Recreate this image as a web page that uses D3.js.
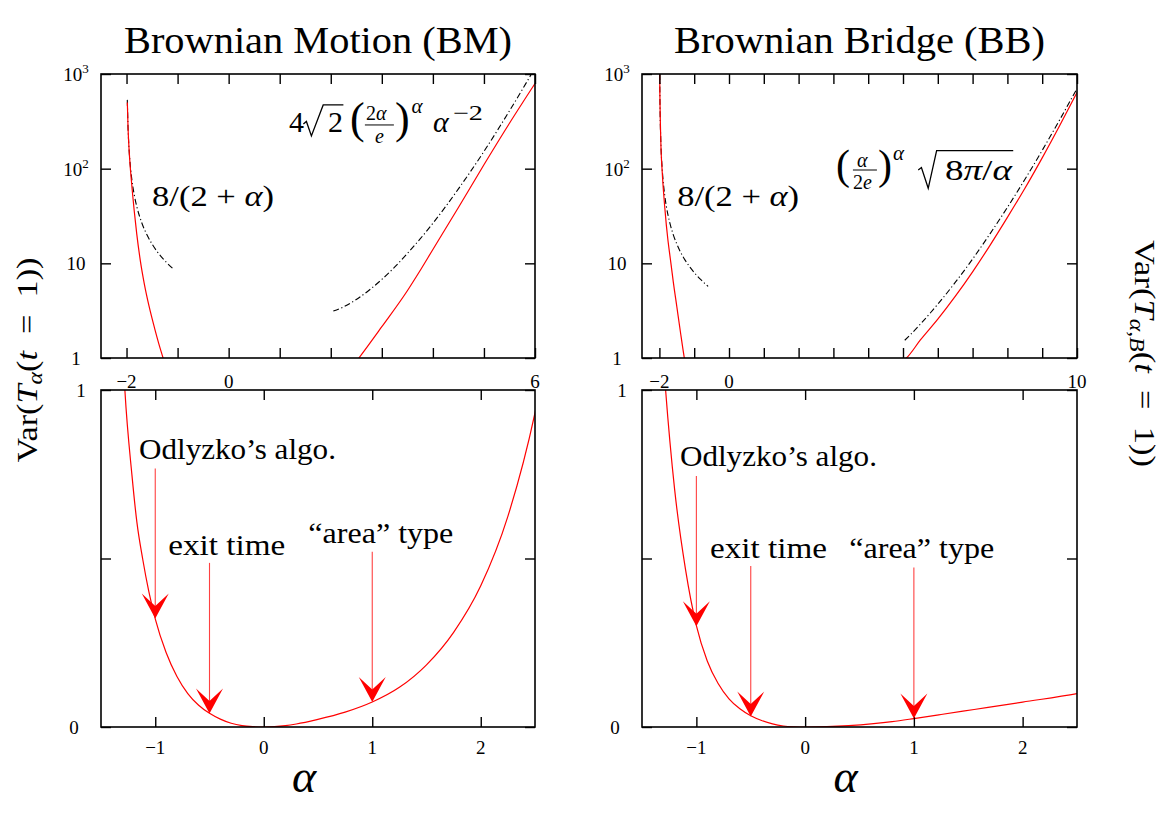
<!DOCTYPE html>
<html><head><meta charset="utf-8">
<script src="https://cdn.jsdelivr.net/npm/d3@7"></script>
<style>
body{margin:0;background:#fff}
svg{display:block}
text{fill:#000}
</style>
</head><body>
<svg id="c" width="1170" height="827" font-family="'Liberation Serif','DejaVu Serif','Times New Roman',serif"></svg>
<script>
// ---------------- DATA ----------------
const titles = ["Brownian Motion (BM)", "Brownian Bridge (BB)"];

// top (log) panels: x ticks / labels
const topXTicksBM = [-2,-1,0,1,2,3,4,5,6];
const topXLabelsBM = [-2,0,6];
const topXTicksBB = [-2,-1,0,1,2,3,4,5,6,7,8,9,10];
const topXLabelsBB = [-2,0,10];
const logYTicks = [1,10,100,1000];
const logYLabelBase = ["1","10","10","10"];
const logYLabelExp  = ["","","2","3"];
// bottom (linear) panels
const bottomXTicks = [-1,0,1,2];
const linYTicks = [0,0.5,1];
const linYLabels = [0,1];

// BM, log panel: variance (red)
const bmTopRedLeftA  = [-1.984,-1.97,-1.95,-1.93,-1.906,-1.88,-1.85,-1.8,-1.73,-1.65,-1.56,-1.45,-1.37,-1.284,-1.25];
const bmTopRedLeftV  = [500,267,160,109,75.9,53,36.1,20.5,10.7,6.01,3.55,2.06,1.43,1.0,0.867];
const bmTopRedRightA = [2.45,2.551,3,3.5,3.717,4,4.5,5,5.5,6];
const bmTopRedRightV = [0.85,1.0,2.14,5.13,7.85,14.0,38.9,110,302,794];
// BM, log panel: asymptotes (black dash-dot)
const bmTopBlackLeftA  = [-1.985,-1.97,-1.95,-1.92,-1.9,-1.85,-1.8,-1.7,-1.6,-1.5,-1.4,-1.3,-1.2,-1.1,-1.07];
const bmTopBlackLeftV  = [533,267,160,100,80,53.3,40,26.7,20,16,13.3,11.4,10,8.89,8.6];
const bmTopBlackRightA = [2.05,2.25,2.5,2.75,3,3.25,3.5,3.75,4,4.5,5,5.5,5.75,6];
const bmTopBlackRightV = [3.13,3.47,4.15,5.20,6.76,9.11,12.7,18.1,26.5,61.1,152,408,683,1164];

// BB, log panel
const bbTopRedLeftA  = [-1.995,-1.992,-1.96,-1.92,-1.885,-1.85,-1.8,-1.76,-1.7,-1.664,-1.6,-1.5,-1.4,-1.284,-1.25];
const bbTopRedLeftV  = [1600,1000,200,93.3,59.2,40.5,25.2,18.3,12.2,9.7,6.32,3.5,1.93,1.0,0.847];
const bbTopRedRightA = [5.0,5.1,5.5,6,6.5,7,7.5,8,8.5,9,9.5,10];
const bbTopRedRightV = [0.93,1.0,1.55,2.57,4.47,8.13,15.5,30.6,61.7,130,284,640];
const bbTopBlackLeftA  = [-1.992,-1.98,-1.96,-1.92,-1.9,-1.85,-1.8,-1.7,-1.6,-1.5,-1.4,-1.3,-1.2,-1.1,-1.0,-0.9,-0.8,-0.7,-0.6];
const bbTopBlackLeftV  = [1000,400,200,100,80,53.3,40,26.7,20,16,13.3,11.4,10,8.89,8,7.27,6.67,6.15,5.71];
const bbTopBlackRightA = [5.05,5.25,5.5,6,6.5,7,7.5,8,8.5,9,9.5,10];
const bbTopBlackRightV = [1.54,1.82,2.28,3.70,6.28,11.1,20.5,39.0,76.8,156,327,702];

// bottom (linear) panels
const bmBottomA = [-1.30,-1.28,-1.215,-1.169,-1.115,-1.06,-1.0,-0.9,-0.8,-0.7,-0.6,-0.5,-0.4,-0.3,-0.2,-0.1,0,0.1,0.2,0.3,0.49,0.75,1.0,1.25,1.5,1.75,2.0,2.25,2.5,2.55];
const bmBottomV = [1.12,1.0,0.748,0.607,0.497,0.403,0.321,0.221,0.150,0.0993,0.0646,0.0408,0.0235,0.0111,0.004,0.001,0,0.001,0.004,0.009,0.022,0.044,0.074,0.1176,0.1845,0.281,0.419,0.625,0.932,1.01];
const bbBottomA = [-1.31,-1.283,-1.2,-1.1,-1.0,-0.9,-0.8,-0.7,-0.6,-0.5,-0.4,-0.3,-0.2,-0.1,0,0.2,0.4,0.63,0.8,1.0,1.25,1.554,2.0,2.5,2.55];
const bbBottomV = [1.12,1.0,0.705,0.468,0.301,0.196,0.129,0.0837,0.054,0.0334,0.0193,0.0091,0.003,0.0007,0,0.001,0.004,0.01,0.016,0.025,0.037,0.052,0.074,0.099,0.102];

// arrows (alpha, tail value, tip value)
const arrowAlpha = [-1,-0.5,1];
const bmArrowTail = [0.767,0.487,0.52];
const bmArrowTip  = [0.322,0.04,0.074];
const bbArrowTail = [0.745,0.478,0.473];
const bbArrowTip  = [0.299,0.031,0.025];
// annotation labels (text, alpha anchor, value anchor)
const annoText  = ["Odlyzko\u2019s algo.","exit time","\u201Carea\u201D type"];
const bmAnnoA = [-1.150,-0.880,0.411], bmAnnoV = [0.796,0.510,0.545];
const bbAnnoA = [-1.151,-0.875,0.406], bbAnnoV = [0.774,0.501,0.501];
const annoWidth = [197,117,145];

// ---------------- LAYOUT ----------------
const svg = d3.select('#c');
const defs = svg.append('defs');
const colX = {bm:[101,535], bb:[642,1077]};
const topY = [358,74], botY = [727,390];

const xTopBM = d3.scaleLinear([-2.5,6], colX.bm);
const xTopBB = d3.scaleLinear([-2.5,10], colX.bb);
const xBotBM = d3.scaleLinear([-1.5,2.5], colX.bm);
const xBotBB = d3.scaleLinear([-1.5,2.5], colX.bb);
const yLog = d3.scaleLog([1,1000], topY);
const yLin = d3.scaleLinear([0,1], botY);

function clip(id, xr, yr){
  defs.append('clipPath').attr('id',id).append('rect')
    .attr('x',xr[0]).attr('y',yr[1]).attr('width',xr[1]-xr[0]).attr('height',yr[0]-yr[1]);
}
function curve(g, x, y, A, V, stroke, dash, clipId){
  const line = d3.line().x(d=>x(d[0])).y(d=>y(d[1])).curve(d3.curveMonotoneX);
  g.append('path').datum(d3.zip(A,V)).attr('d',line)
    .attr('fill','none').attr('stroke',stroke).attr('stroke-width',stroke==='#000'?1.1:1.2)
    .attr('stroke-dasharray',dash||null).attr('clip-path',`url(#${clipId})`);
}
function styleAxis(sel){
  sel.select('.domain').remove();
  sel.selectAll('.tick line').attr('stroke','#000').attr('stroke-width',1.4);
}
function frameAxes(g, x, y, xr, yr, xticks, yticks){
  g.append('g').attr('transform',`translate(0,${yr[0]})`)
    .call(d3.axisBottom(x).tickValues(xticks).tickSize(-10).tickSizeOuter(0).tickFormat('')).call(styleAxis);
  g.append('g').attr('transform',`translate(0,${yr[1]})`)
    .call(d3.axisTop(x).tickValues(xticks).tickSize(-10).tickSizeOuter(0).tickFormat('')).call(styleAxis);
  g.append('g').attr('transform',`translate(${xr[0]},0)`)
    .call(d3.axisLeft(y).tickValues(yticks).tickSize(-10).tickSizeOuter(0).tickFormat('')).call(styleAxis);
  g.append('g').attr('transform',`translate(${xr[1]},0)`)
    .call(d3.axisRight(y).tickValues(yticks).tickSize(-10).tickSizeOuter(0).tickFormat('')).call(styleAxis);
  g.append('rect').attr('x',xr[0]).attr('y',yr[1]).attr('width',xr[1]-xr[0]).attr('height',yr[0]-yr[1])
    .attr('fill','none').attr('stroke','#000').attr('stroke-width',1.6);
}
const fmt = v => (v<0? '\u2212'+Math.abs(v) : String(v));
const FONT = "'Liberation Serif','DejaVu Serif','Times New Roman',serif";

function topPanel(key, x, xticks, xlabels, data){
  const g = svg.append('g').attr('font-family',FONT); const xr = colX[key]; const cid = 'clipTop'+key;
  clip(cid, xr, topY);
  curve(g,x,yLog,data.bl[0],data.bl[1],'#000','6,2.6,1.2,2.6',cid);
  curve(g,x,yLog,data.br[0],data.br[1],'#000','6,2.6,1.2,2.6',cid);
  curve(g,x,yLog,data.rl[0],data.rl[1],'#ff0000',null,cid);
  curve(g,x,yLog,data.rr[0],data.rr[1],'#ff0000',null,cid);
  frameAxes(g,x,yLog,xr,topY,xticks,logYTicks);
  g.selectAll('.xl').data(xlabels).join('text').attr('x',d=>x(d)).attr('y',topY[0]+30)
    .attr('text-anchor','middle').attr('font-size',19).text(fmt);
  logYTicks.forEach((v,i)=>{
    const t = g.append('text').attr('x',xr[0]-25).attr('y',yLog(v)+7).attr('text-anchor','middle').attr('font-size',19);
    t.append('tspan').text(logYLabelBase[i]);
    if (logYLabelExp[i]) t.append('tspan').attr('font-size',13).attr('dy',-8).text(logYLabelExp[i]);
  });
  return g;
}
function bottomPanel(key, x, data, tails, tips, annoA, annoV){
  const g = svg.append('g').attr('font-family',FONT); const xr = colX[key]; const cid = 'clipBot'+key;
  clip(cid, xr, botY);
  curve(g,x,yLin,data[0],data[1],'#ff0000',null,cid);
  frameAxes(g,x,yLin,xr,botY,bottomXTicks,linYTicks);
  g.selectAll('.xl').data(bottomXTicks).join('text').attr('x',d=>x(d)).attr('y',botY[0]+27)
    .attr('text-anchor','middle').attr('font-size',19).text(fmt);
  linYLabels.forEach(v=>{
    g.append('text').attr('x',xr[0]+(v===0?-27:-20)).attr('y',yLin(v)+7)
      .attr('text-anchor','middle').attr('font-size',19).text(v);
  });
  arrowAlpha.forEach((a,i)=>{
    const px = x(a), yt = yLin(tails[i]), yh = yLin(tips[i]);
    g.append('line').attr('x1',px).attr('x2',px).attr('y1',yt).attr('y2',yh-12)
      .attr('stroke','#ff2020').attr('stroke-width',1.1).attr('stroke-opacity',0.85);
    g.append('path').attr('d',`M${px},${yh} L${px-13.5},${yh-25} L${px},${yh-12.5} L${px+13.5},${yh-25} Z`)
      .attr('fill','#ff0000');
  });
  annoText.forEach((t,i)=>{
    g.append('text').attr('x',x(annoA[i])).attr('y',yLin(annoV[i])).attr('font-size',29)
      .attr('textLength',annoWidth[i]).attr('lengthAdjust','spacingAndGlyphs').text(t);
  });
  return g;
}

const gTL = topPanel('bm', xTopBM, topXTicksBM, topXLabelsBM, {
  rl:[bmTopRedLeftA,bmTopRedLeftV], rr:[bmTopRedRightA,bmTopRedRightV],
  bl:[bmTopBlackLeftA,bmTopBlackLeftV], br:[bmTopBlackRightA,bmTopBlackRightV]});
const gTR = topPanel('bb', xTopBB, topXTicksBB, topXLabelsBB, {
  rl:[bbTopRedLeftA,bbTopRedLeftV], rr:[bbTopRedRightA,bbTopRedRightV],
  bl:[bbTopBlackLeftA,bbTopBlackLeftV], br:[bbTopBlackRightA,bbTopBlackRightV]});
bottomPanel('bm', xBotBM, [bmBottomA,bmBottomV], bmArrowTail, bmArrowTip, bmAnnoA, bmAnnoV);
bottomPanel('bb', xBotBB, [bbBottomA,bbBottomV], bbArrowTail, bbArrowTip, bbAnnoA, bbAnnoV);

// ---------- math annotations ----------
function T(g, x, y, txt, size, italic, len){
  const t = g.append('text').attr('x',x).attr('y',y).attr('font-size',size).text(txt);
  if (italic) t.attr('font-style','italic');
  if (len) t.attr('textLength',len).attr('lengthAdjust','spacingAndGlyphs');
  return t;
}
function frac8(g, x, y){
  const t = g.append('text').attr('x',x).attr('y',y).attr('font-size',30)
    .attr('textLength',122).attr('lengthAdjust','spacingAndGlyphs');
  t.append('tspan').text('8/(2 + ');
  t.append('tspan').attr('font-style','italic').text('\u03B1');
  t.append('tspan').text(')');
}
frac8(gTL, xTopBM(-1.5), yLog(40.6));
frac8(gTR, xTopBB(-1.49), yLog(40.6));

// BM asymptote formula: 4 sqrt2 (2a/e)^a a^-2
(function(){
  const g = gTL, ax = xTopBM(1.18), ay = yLog(246);
  T(g, ax, ay, '4', 30);
  g.append('path').attr('d',`M${ax+14.5},${ay-7.7} L${ax+17.5},${ay-10.2} L${ax+22.5},${ay+4.3} L${ax+34.3},${ay-26.7} L${ax+54.5},${ay-26.7}`)
    .attr('fill','none').attr('stroke','#000').attr('stroke-width',1.3);
  T(g, ax+39, ay, '2', 30);
  T(g, ax+61, ay+1.8, '(', 44);
  const n = g.append('text').attr('x',ax+77).attr('y',ay-12).attr('font-size',20);
  n.append('tspan').text('2'); n.append('tspan').attr('font-style','italic').text('\u03B1');
  g.append('line').attr('x1',ax+76).attr('x2',ax+105).attr('y1',ay-6.7).attr('y2',ay-6.7).attr('stroke','#000').attr('stroke-width',1);
  T(g, ax+86, ay+11, 'e', 20, true);
  T(g, ax+106, ay+1.8, ')', 44);
  T(g, ax+122.7, ay-18.5, '\u03B1', 21, true);
  T(g, ax+144, ay, '\u03B1', 30, true);
  T(g, ax+164, ay-12, '\u22122', 21, false, 30);
})();
// BB asymptote formula: (a/2e)^a sqrt(8 pi / a)
(function(){
  const g = gTR, ax = xTopBB(3.13), ay = yLog(75.9);
  T(g, ax-2, ay-1, '(', 42);
  T(g, ax+19, ay-13.5, '\u03B1', 20, true);
  g.append('line').attr('x1',ax+15).attr('x2',ax+39).attr('y1',ay-10).attr('y2',ay-10).attr('stroke','#000').attr('stroke-width',1);
  const d = g.append('text').attr('x',ax+15).attr('y',ay+8.5).attr('font-size',20);
  d.append('tspan').text('2'); d.append('tspan').attr('font-style','italic').text('e');
  T(g, ax+40, ay-1, ')', 42);
  T(g, ax+55, ay-20, '\u03B1', 21, true);
  g.append('path').attr('d',`M${ax+80.3},${ay-10} L${ax+83.5},${ay-12.5} L${ax+90.3},${ay+8.3} L${ax+98.7},${ay-29.3} L${ax+175.3},${ay-29.3}`)
    .attr('fill','none').attr('stroke','#000').attr('stroke-width',1.3);
  const r = g.append('text').attr('x',ax+107).attr('y',ay).attr('font-size',30)
    .attr('textLength',67).attr('lengthAdjust','spacingAndGlyphs');
  r.append('tspan').text('8');
  r.append('tspan').attr('font-style','italic').text('\u03C0');
  r.append('tspan').text('/');
  r.append('tspan').attr('font-style','italic').text('\u03B1');
})();

// ---------- titles & axis titles ----------
const tw = [388,371];
['bm','bb'].forEach((k,i)=>{
  svg.append('text').attr('font-family',FONT).attr('x',(colX[k][0]+colX[k][1])/2).attr('y',53).attr('text-anchor','middle')
    .attr('font-size',38).attr('textLength',tw[i]).attr('lengthAdjust','spacingAndGlyphs').text(titles[i]);
  svg.append('text').attr('font-family',FONT).attr('x',(colX[k][0]+colX[k][1])/2-14).attr('y',792).attr('text-anchor','middle')
    .attr('font-size',46).attr('font-style','italic').text('\u03B1');
});
// left y label
(function(){
  const t = svg.append('text').attr('font-family',FONT).attr('transform','translate(37,360) rotate(-90)').attr('text-anchor','middle')
    .attr('font-size',29).attr('textLength',205).attr('lengthAdjust','spacingAndGlyphs');
  t.append('tspan').text('Var(');
  t.append('tspan').attr('font-style','italic').text('T');
  t.append('tspan').attr('font-style','italic').attr('font-size',20).attr('dy',5).text('\u03B1');
  t.append('tspan').attr('dy',-5).text('(');
  t.append('tspan').attr('font-style','italic').text('t');
  t.append('tspan').text('\u2002=\u20021))');
})();
// right y label
(function(){
  const t = svg.append('text').attr('font-family',FONT).attr('transform','translate(1135,353.5) rotate(90)').attr('text-anchor','middle')
    .attr('font-size',29).attr('textLength',227).attr('lengthAdjust','spacingAndGlyphs');
  t.append('tspan').text('Var(');
  t.append('tspan').attr('font-style','italic').text('T');
  const s = t.append('tspan').attr('font-size',20).attr('dy',5);
  s.append('tspan').attr('font-style','italic').text('\u03B1');
  s.append('tspan').text(',');
  s.append('tspan').attr('font-style','italic').text('B');
  t.append('tspan').attr('dy',-5).text('(');
  t.append('tspan').attr('font-style','italic').text('t');
  t.append('tspan').text('\u2002=\u20021))');
})();
</script>
</body></html>
